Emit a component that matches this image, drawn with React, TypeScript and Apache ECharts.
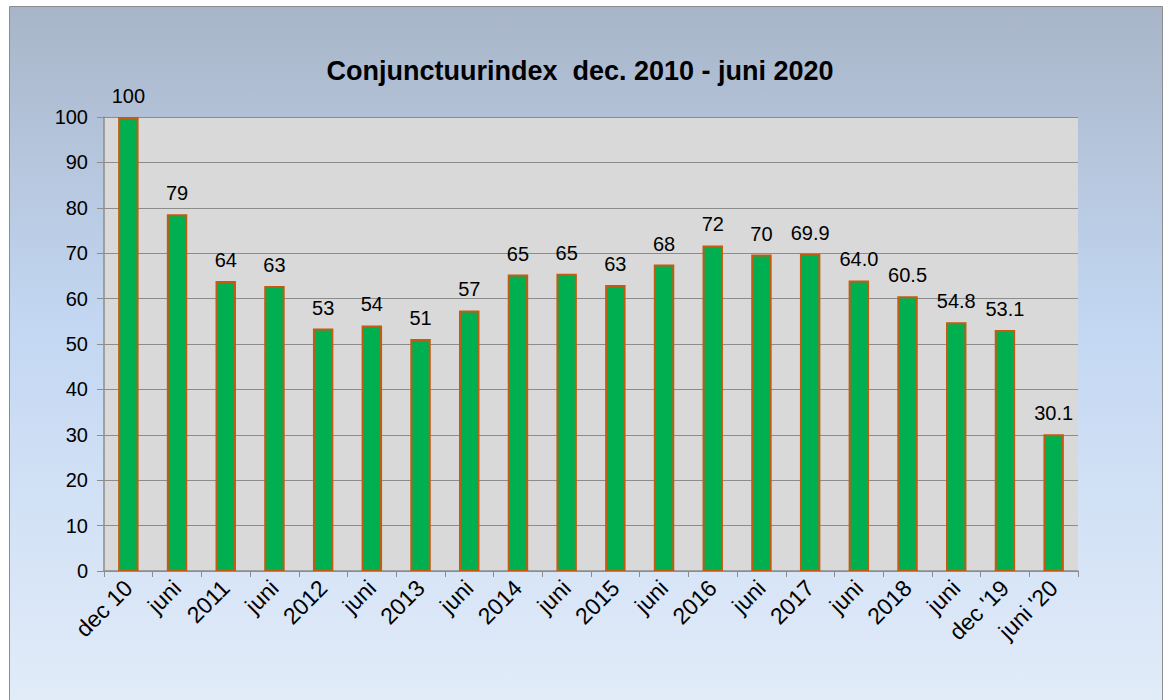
import React, { useEffect, useRef } from "react";
import * as echarts from "echarts";

const categories = ["dec 10", "juni", "2011", "juni", "2012", "juni", "2013", "juni", "2014", "juni", "2015", "juni", "2016", "juni", "2017", "juni", "2018", "juni", "dec '19", "juni '20"];
const values = [100, 78.6, 63.9, 62.8, 53.4, 54.1, 51.1, 57.4, 65.3, 65.5, 63.0, 67.5, 71.7, 69.7, 69.9, 64.0, 60.5, 54.8, 53.1, 30.1];
const valueLabels = ["100", "79", "64", "63", "53", "54", "51", "57", "65", "65", "63", "68", "72", "70", "69.9", "64.0", "60.5", "54.8", "53.1", "30.1"];
const title = "Conjunctuurindex  dec. 2010 - juni 2020";

export default function App() {
  const ref = useRef<HTMLDivElement>(null);
  useEffect(() => {
    document.body.style.margin = "0";
    const chart = echarts.init(ref.current!, null, { renderer: "svg" });
    chart.setOption({
      animation: false,
      backgroundColor: "#ffffff",
      graphic: [
        {
          type: "rect",
          z: -10,
          shape: { x: 9.5, y: 6.5, width: 1153, height: 700 },
          style: {
            fill: new echarts.graphic.LinearGradient(0, 0, 0, 1, [
              { offset: 0, color: "#a8b5c8" },
              { offset: 0.45, color: "#c3d7f2" },
              { offset: 1, color: "#e2ecf9" },
            ]),
            stroke: "#8c8c8c",
            lineWidth: 1,
          },
        },
      ],
      title: {
        text: title,
        left: 575,
        textAlign: "center",
        top: 52,
        textStyle: { fontFamily: "Liberation Sans, Arial", fontSize: 27, fontWeight: "bold", color: "#000" },
      },
      grid: {
        left: 104,
        right: 92,
        top: 117,
        bottom: 129,
        show: true,
        backgroundColor: "#d9d9d9",
        borderWidth: 0,
        containLabel: false,
      },
      xAxis: {
        type: "category",
        data: categories,
        boundaryGap: true,
        axisLine: { lineStyle: { color: "#8c8c8c", width: 1.5 } },
        axisTick: { show: true, alignWithLabel: false, length: 6, lineStyle: { color: "#8c8c8c" } },
        axisLabel: {
          rotate: 45,
          interval: 0,
          fontFamily: "Liberation Sans, Arial",
          fontSize: 23,
          color: "#000",
          margin: 13,
        },
      },
      yAxis: {
        type: "value",
        min: 0,
        max: 100,
        interval: 10,
        axisLine: { show: true, lineStyle: { color: "#8c8c8c", width: 1.5 } },
        axisTick: { show: true, length: 7, lineStyle: { color: "#8c8c8c" } },
        splitLine: { lineStyle: { color: "#8c8c8c", width: 1 } },
        axisLabel: {
          fontFamily: "Liberation Sans, Arial",
          fontSize: 20,
          color: "#000",
          margin: 16,
        },
      },
      series: [
        {
          type: "bar",
          data: values,
          barWidth: "42%",
          itemStyle: { color: "#00b050", borderColor: "#c55a11", borderWidth: 2 },
          label: {
            show: true,
            position: "top",
            distance: 11,
            fontFamily: "Liberation Sans, Arial",
            fontSize: 20,
            color: "#000",
            formatter: (p: any) => valueLabels[p.dataIndex],
          },
        },
      ],
    });
    return () => chart.dispose();
  }, []);
  return <div ref={ref} style={{ width: 1170, height: 700 }} />;
}
